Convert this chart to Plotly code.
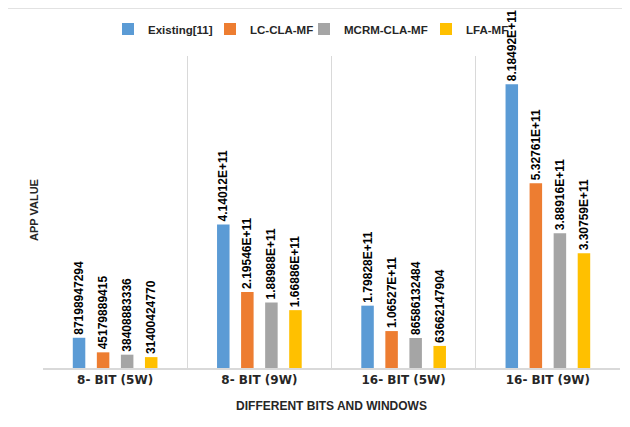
import plotly.graph_objects as go

categories = ["8- BIT (5W)", "8- BIT (9W)", "16- BIT (5W)", "16- BIT (9W)"]
series_names = ["Existing[11]", "LC-CLA-MF", "MCRM-CLA-MF", "LFA-MF"]
existing = [87198947294, 4.14012e11, 1.79828e11, 8.18492e11]
lc_cla_mf = [45179889415, 2.19546e11, 1.06527e11, 5.32761e11]
mcrm_cla_mf = [38408883336, 1.88988e11, 86586132484, 3.88916e11]
lfa_mf = [31400424770, 1.66886e11, 63662147904, 3.30759e11]
existing_labels = ["87198947294", "4.14012E+11", "1.79828E+11", "8.18492E+11"]
lc_labels = ["45179889415", "2.19546E+11", "1.06527E+11", "5.32761E+11"]
mcrm_labels = ["38408883336", "1.88988E+11", "86586132484", "3.88916E+11"]
lfa_labels = ["31400424770", "1.66886E+11", "63662147904", "3.30759E+11"]
colors = ["#5B9BD5", "#ED7D31", "#A5A5A5", "#FFC000"]

FONT = "Liberation Sans"
# page body has an 8px margin, so the figure is drawn 8px in and 8px down
OFF = 8
W, H = 630 - OFF, 427 - OFF
L, T = 43 - OFF, 56 - OFF
PW, PH = 577, 312
R, B = W - L - PW, H - T - PH

def px(x):
    return (x - 43) / PW

def py(y):
    return (368 - y) / PH

legend_ids = ["legend", "legend2", "legend3", "legend4"]
legend_text_x = [150, 252, 346, 468]

fig = go.Figure()
for name, vals, labels, col, lid in zip(series_names,
                                        [existing, lc_cla_mf, mcrm_cla_mf, lfa_mf],
                                        [existing_labels, lc_labels, mcrm_labels, lfa_labels],
                                        colors, legend_ids):
    fig.add_trace(go.Bar(
        name=name, x=categories, y=vals, text=labels,
        textposition="outside", textangle=-90, constraintext="none",
        cliponaxis=False, legend=lid,
        textfont=dict(family=FONT, size=12, color="#000000", weight="bold"),
        marker=dict(color=col, line=dict(width=0)),
        hoverinfo="x+y",
    ))

# outer chart frame
fig.add_shape(type="rect", xref="paper", yref="paper",
              x0=px(5), x1=px(660), y0=py(460), y1=py(8),
              line=dict(color="#D9D9D9", width=1.5), layer="below")

fig.add_annotation(text="<b>APP VALUE</b>", xref="paper", yref="paper",
                   x=px(34), y=py(210), textangle=-90,
                   showarrow=False, xanchor="center", yanchor="middle",
                   font=dict(family=FONT, size=11, color="#262626"))

legend_common = dict(orientation="h", xanchor="left", yanchor="middle",
                     font=dict(family=FONT, size=11.5, color="#262626", weight="bold"),
                     bgcolor="rgba(0,0,0,0)", itemwidth=30, itemclick=False)
legends = {}
for lid, tx in zip(legend_ids, legend_text_x):
    legends[lid] = dict(legend_common, x=px(tx - 42), y=py(29))

fig.update_layout(
    width=W, height=H,
    margin=dict(l=L, r=R, t=T, b=B, autoexpand=False),
    paper_bgcolor="white", plot_bgcolor="white",
    barmode="group", bargap=0.333, bargroupgap=0.48,
    showlegend=True,
    xaxis=dict(
        automargin=False,
        tickson="boundaries", showgrid=True, gridcolor="#D9D9D9", gridwidth=1,
        showline=True, linecolor="#D9D9D9", linewidth=1.5, ticks="",
        tickfont=dict(family="DejaVu Sans", size=12, color="#262626", weight="bold"),
        title=dict(text="<b>DIFFERENT BITS AND WINDOWS</b>", standoff=15,
                   font=dict(family=FONT, size=12, color="#262626")),
    ),
    yaxis=dict(automargin=False, range=[0, 9e11], showgrid=False, showticklabels=False,
               zeroline=False, showline=False, ticks=""),
    **legends,
)

fig.write_html("out.html")
